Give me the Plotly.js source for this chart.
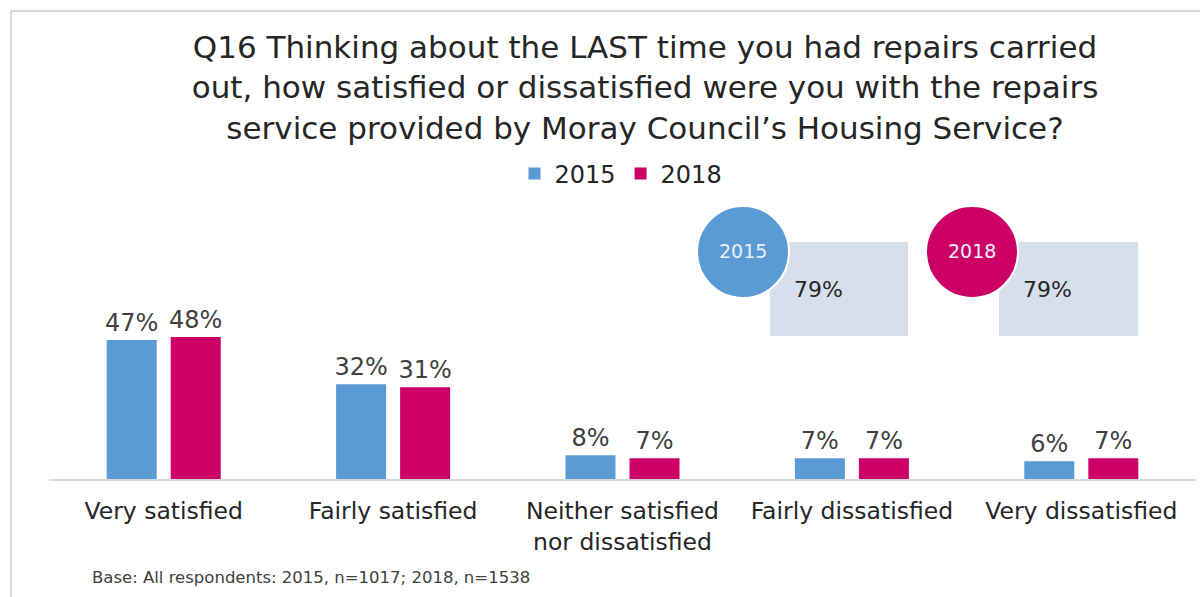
<!DOCTYPE html>
<html>
<head>
<meta charset="utf-8">
<script src="https://cdn.plot.ly/plotly-3.0.1.min.js"></script>
<style>html,body{margin:0;padding:0;background:#fff;}#chart{width:1200px;height:597px;}</style>
</head>
<body>
<div id="chart"></div>
<script>
// ---- data ----
var categories = ['Very satisfied', 'Fairly satisfied', 'Neither satisfied<br>nor dissatisfied', 'Fairly dissatisfied', 'Very dissatisfied'];
var series2015 = [47, 32, 8, 7, 6];
var series2018 = [48, 31, 7, 7, 7];
var seriesNames = ['2015', '2018'];
var calloutYears = ['2015', '2018'];
var calloutValues = [79, 79];
var titleText = 'Q16 Thinking about the LAST time you had repairs carried<br>out, how satisfied or dissatisfied were you with the repairs<br>service provided by Moray Council\u2019s Housing Service?';
var footnote = 'Base: All respondents: 2015, n=1017; 2018, n=1538';

// ---- styling ----
var FONT = 'DejaVu Sans, sans-serif';
var BLUE = '#5b9bd5', PINK = '#cc0066';
var W = 1200, H = 597;
var L = 49, R = 1196, T = 183, B = 479;
function px(x) { return (x - L) / (R - L); }
function py(y) { return (B - y) / (B - T); }

var traces = [
  {type: 'bar', name: seriesNames[0], x: categories, y: series2015, marker: {color: BLUE},
   texttemplate: '%{y}%', textposition: 'outside', constraintext: 'none', cliponaxis: false,
   textfont: {family: FONT, size: 24, color: '#404040'}, hoverinfo: 'skip'},
  {type: 'bar', name: seriesNames[1], x: categories, y: series2018, marker: {color: PINK},
   texttemplate: '%{y}%', textposition: 'outside', constraintext: 'none', cliponaxis: false,
   textfont: {family: FONT, size: 24, color: '#404040'}, hoverinfo: 'skip'}
];

var shapes = [
  {type: 'line', xref: 'paper', yref: 'paper', x0: px(10), x1: px(1200), y0: py(11), y1: py(11), line: {color: '#d9d9d9', width: 2}},
  {type: 'line', xref: 'paper', yref: 'paper', x0: px(11), x1: px(11), y0: py(11), y1: py(600), line: {color: '#d9d9d9', width: 2}}
];
var annotations = [
  {xref: 'paper', yref: 'paper', x: px(90), y: py(577), xanchor: 'left', yanchor: 'middle', showarrow: false,
   text: footnote, font: {family: FONT, size: 16.5, color: '#404040'}}
];
var circleX = [743, 972], boxX0 = [770, 999], boxX1 = [908, 1138];
var circleColors = [BLUE, PINK];
for (var i = 0; i < calloutYears.length; i++) {
  shapes.push({type: 'rect', xref: 'paper', yref: 'paper', x0: px(boxX0[i]), x1: px(boxX1[i]), y0: py(242), y1: py(336),
    fillcolor: '#d6e0ed', line: {width: 0}, layer: 'above'});
  shapes.push({type: 'circle', xref: 'paper', yref: 'paper', x0: px(circleX[i] - 46), x1: px(circleX[i] + 46), y0: py(206), y1: py(298),
    fillcolor: circleColors[i], line: {color: '#ffffff', width: 2}, layer: 'above'});
  annotations.push({xref: 'paper', yref: 'paper', x: px(circleX[i]), y: py(251), xanchor: 'center', yanchor: 'middle', showarrow: false,
    text: calloutYears[i], font: {family: FONT, size: 19, color: '#eaf0f8'}});
  annotations.push({xref: 'paper', yref: 'paper', x: px(boxX0[i] + 22), y: py(289), xanchor: 'left', yanchor: 'middle', showarrow: false,
    text: calloutValues[i] + '%', font: {family: FONT, size: 22, color: '#262626'}});
}

var layout = {
  width: W, height: H, autosize: false,
  margin: {l: L, r: W - R, t: T, b: H - B, pad: 0},
  paper_bgcolor: '#ffffff', plot_bgcolor: '#ffffff',
  font: {family: FONT, color: '#262626'},
  title: {text: titleText, x: 645 / W, xanchor: 'center', xref: 'container', y: 1 - 58 / H, yanchor: 'top', yref: 'container',
    font: {family: FONT, size: 31, color: '#262626'}},
  barmode: 'group', bargap: 0.4417, bargroupgap: 0.219,
  xaxis: {type: 'category', showline: true, linecolor: '#d9d9d9', linewidth: 2, ticks: '', showgrid: false, zeroline: false,
    tickfont: {family: FONT, size: 23.5, color: '#262626'}, ticklabelstandoff: 10, fixedrange: true},
  yaxis: {range: [0, 100], visible: false, fixedrange: true},
  showlegend: true,
  legend: {orientation: 'h', x: px(621), xanchor: 'center', y: py(174), yanchor: 'middle',
    font: {family: FONT, size: 24, color: '#262626'}, itemwidth: 30, bgcolor: 'rgba(0,0,0,0)'},
  shapes: shapes, annotations: annotations
};

Plotly.newPlot('chart', traces, layout, {displayModeBar: false, staticPlot: true});
</script>
</body>
</html>
